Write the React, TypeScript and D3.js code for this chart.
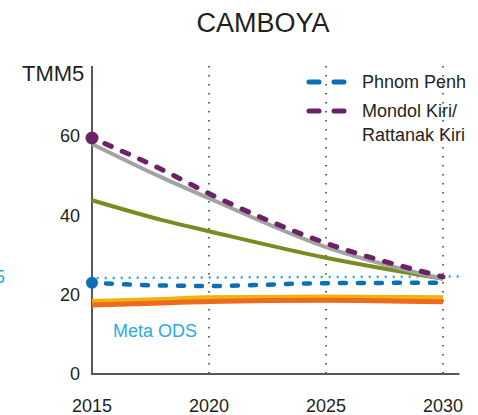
import React, { useEffect, useRef } from "react";
import * as d3 from "d3";

const years = [2015, 2018, 2020, 2025, 2030];
const nacional = [58, 49.5, 44.3, 32, 24];
const mondolKiri = [59.5, 51.5, 45.5, 33, 24.5];
const verde = [43.8, 38.8, 36, 29.3, 24];
const phnomPenh = [23, 22.3, 22.2, 22.9, 23];
const amarillo = [18.3, 18.8, 19.2, 19.4, 19.2];
const naranja = [17.4, 17.9, 18.3, 18.6, 18.2];
const metaYears = [2015.2, 2030.7];
const metaValues = [24.2, 24.6];
const xTicks = [2015, 2020, 2025, 2030];
const yTicks = [0, 20, 40, 60];

const FONT = "'Liberation Sans', Arial, sans-serif";

export default function App() {
  const ref = useRef<SVGSVGElement>(null);

  useEffect(() => {
    const svg = d3.select(ref.current);
    svg.selectAll("*").remove();

    const x = d3.scaleLinear().domain([2015, 2030]).range([92, 443]);
    const y = d3.scaleLinear().domain([0, 60]).range([374, 136]);

    const line = d3
      .line<[number, number]>()
      .x((d) => x(d[0]))
      .y((d) => y(d[1]))
      .curve(d3.curveMonotoneX);

    const pts = (vals: number[], yrs = years) =>
      vals.map((v, i) => [yrs[i], v] as [number, number]);

    // title
    svg.append("text")
      .attr("x", 263).attr("y", 32)
      .attr("text-anchor", "middle")
      .attr("font-size", 27)
      .attr("fill", "#231f20")
      .text("CAMBOYA");

    // dotted grid
    xTicks.slice(1).forEach((t) => {
      svg.append("line")
        .attr("x1", x(t)).attr("x2", x(t))
        .attr("y1", 66).attr("y2", 374)
        .attr("stroke", "#333")
        .attr("stroke-width", 1.5)
        .attr("stroke-dasharray", "1.5 7.5");
    });

    // axes
    svg.append("line")
      .attr("x1", 92).attr("x2", 92).attr("y1", 66).attr("y2", 375)
      .attr("stroke", "#58585a").attr("stroke-width", 2);
    svg.append("line")
      .attr("x1", 91).attr("x2", x(2030.7)).attr("y1", 374).attr("y2", 374)
      .attr("stroke", "#58585a").attr("stroke-width", 2);

    svg.append("text")
      .attr("x", 22).attr("y", 81)
      .attr("font-size", 22).attr("fill", "#231f20")
      .text("TMM5");

    svg.append("g").selectAll("text").data(yTicks).enter().append("text")
      .attr("x", 80).attr("y", (d) => y(d))
      .attr("dy", "0.35em")
      .attr("text-anchor", "end")
      .attr("font-size", 18).attr("fill", "#231f20")
      .text((d) => d);

    svg.append("g").selectAll("text").data(xTicks).enter().append("text")
      .attr("x", (d) => x(d)).attr("y", 412)
      .attr("text-anchor", "middle")
      .attr("font-size", 18).attr("fill", "#231f20")
      .text((d) => d);

    // meta ODS
    svg.append("path")
      .attr("d", line(pts(metaValues, metaYears)))
      .attr("fill", "none").attr("stroke", "#29abe2")
      .attr("stroke-width", 2.5).attr("stroke-dasharray", "2 6");
    svg.append("text")
      .attr("x", 113).attr("y", 337)
      .attr("font-size", 18).attr("fill", "#29abe2")
      .text("Meta ODS");
    svg.append("text")
      .attr("x", 5).attr("y", 277).attr("dy", "0.35em")
      .attr("text-anchor", "end")
      .attr("font-size", 18).attr("fill", "#29abe2")
      .text("25");

    const solid = (vals: number[], color: string, w: number) =>
      svg.append("path")
        .attr("d", line(pts(vals)))
        .attr("fill", "none").attr("stroke", color)
        .attr("stroke-width", w);

    solid(amarillo, "#f2b10f", 5);
    solid(naranja, "#ee6a1c", 5);
    solid(verde, "#7b8b22", 4);
    solid(nacional, "#a3a3a3", 4);

    svg.append("path")
      .attr("d", line(pts(phnomPenh)))
      .attr("fill", "none").attr("stroke", "#0a6fb8")
      .attr("stroke-width", 4.5).attr("stroke-linecap", "round")
      .attr("stroke-dasharray", "6 12").attr("stroke-dashoffset", -14);
    svg.append("path")
      .attr("d", line(pts(mondolKiri)))
      .attr("fill", "none").attr("stroke", "#6b2366")
      .attr("stroke-width", 5).attr("stroke-linecap", "round")
      .attr("stroke-dasharray", "7 12").attr("stroke-dashoffset", -14);

    svg.append("circle")
      .attr("cx", x(2015)).attr("cy", y(phnomPenh[0])).attr("r", 6)
      .attr("fill", "#0a6fb8");
    svg.append("circle")
      .attr("cx", x(2015)).attr("cy", y(mondolKiri[0])).attr("r", 6.5)
      .attr("fill", "#6b2366");

    // legend
    const legend = [
      { color: "#0a6fb8", lines: ["Phnom Penh"], y: 82 },
      { color: "#6b2366", lines: ["Mondol Kiri/", "Rattanak Kiri"], y: 111 },
    ];
    legend.forEach((l) => {
      svg.append("line")
        .attr("x1", 309).attr("x2", 345).attr("y1", l.y).attr("y2", l.y)
        .attr("stroke", l.color).attr("stroke-width", 5)
        .attr("stroke-linecap", "round")
        .attr("stroke-dasharray", "10 15");
      l.lines.forEach((t, i) => {
        svg.append("text")
          .attr("x", 362).attr("y", l.y + 6 + i * 24)
          .attr("font-size", 18).attr("fill", "#231f20")
          .text(t);
      });
    });
  }, []);

  return (
    <svg
      ref={ref}
      width={478}
      height={415}
      style={{ position: "absolute", left: 0, top: 0, fontFamily: FONT, background: "#fff" }}
    />
  );
}
